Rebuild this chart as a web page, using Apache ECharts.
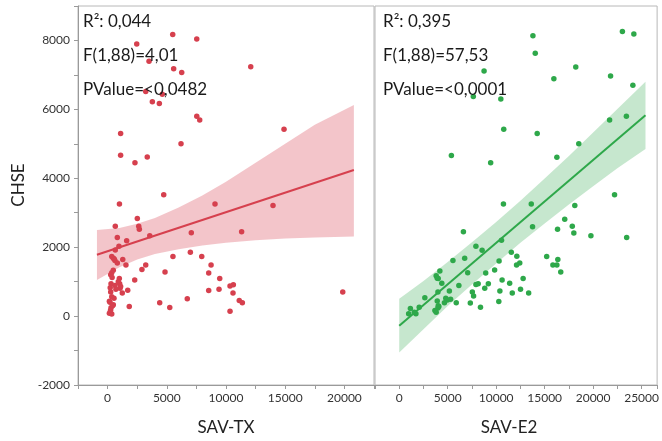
<!DOCTYPE html>
<html>
<head>
<meta charset="utf-8">
<script src="https://cdn.jsdelivr.net/npm/echarts@6/dist/echarts.min.js"></script>
<style>
  html, body { margin: 0; padding: 0; background: #fff; }
  #chart { width: 662px; height: 441px; }
</style>
</head>
<body>
<div id="chart"></div>
<script>
// SAV-TX vs CHSE (left panel)
const txPoints = [
  [5500, 8170], [7530, 8040], [2460, 7900], [3500, 7400], [5580, 7180], [6260, 7070],
  [12090, 7240], [3220, 6520], [4620, 6440], [3780, 6220], [4370, 6170], [7530, 5800],
  [7780, 5690], [1100, 5300], [14900, 5420], [6200, 5000], [1100, 4670], [3350, 4620],
  [2310, 4450], [4740, 3520], [1000, 3250], [9070, 3250], [13970, 3210], [2510, 2830],
  [650, 2610], [2630, 2610], [2680, 2520], [820, 2280], [3560, 2330], [1610, 2190],
  [7070, 2420], [11320, 2450], [960, 2030], [650, 1920], [6990, 1850], [5520, 1730],
  [7950, 1730], [350, 1730], [480, 1680], [1280, 1640], [620, 1610], [820, 1540],
  [1550, 1480], [3220, 1480], [8740, 1480], [2900, 1350], [4850, 1280], [8540, 1250],
  [480, 1330], [350, 1260], [260, 1200], [990, 1090], [2290, 1050], [9470, 1090],
  [290, 940], [1020, 940], [10620, 910], [10340, 870], [620, 890], [1050, 810],
  [1700, 750], [8540, 740], [9410, 780], [10590, 670], [19860, 700], [1240, 670],
  [260, 700], [350, 560], [540, 520], [6730, 500], [11120, 450], [11380, 390],
  [4400, 390], [200, 400], [480, 330], [1830, 280], [5250, 250], [290, 240],
  [10340, 140], [150, 80], [350, 60], [560, 1660], [220, 820], [380, 1120],
  [150, 430], [420, 300], [250, 170], [900, 1000], [700, 780], [1100, 860]
];
const txFit = [[-900, 1780], [20800, 4240]];
const txBandX = [-900, 1000, 2500, 4000, 6000, 8000, 10000, 12500, 15000, 17500, 20800];
const txBandLow = [1050, 1420, 1640, 1800, 1940, 2050, 2130, 2200, 2250, 2280, 2310];
const txBandHigh = [2500, 2560, 2680, 2850, 3150, 3500, 3900, 4450, 5000, 5550, 6130];

// SAV-E2 vs CHSE (right panel)
const e2Points = [
  [13790, 8140], [23020, 8260], [24200, 8190], [14030, 7630], [8750, 7110], [18210, 7230],
  [15950, 6890], [21800, 6970], [24100, 6700], [7640, 6370], [10480, 6300], [10780, 5420],
  [14230, 5300], [21700, 5690], [23430, 5800], [18520, 5000], [5380, 4660], [9430, 4450],
  [16260, 4610], [22210, 3520], [10750, 3250], [13620, 3250], [18110, 3210], [17070, 2810],
  [6620, 2450], [13750, 2590], [16330, 2520], [17850, 2610], [18010, 2410], [19770, 2330],
  [23460, 2280], [10550, 2200], [7910, 2030], [8550, 1910], [11560, 1850], [12130, 1740],
  [15210, 1730], [6750, 1680], [5540, 1610], [10300, 1600], [16360, 1640], [12430, 1540],
  [12100, 1480], [15850, 1480], [16260, 1480], [4190, 1310], [7060, 1260], [8920, 1250],
  [9840, 1340], [16660, 1280], [3810, 1170], [3920, 1100], [4390, 950], [12780, 1090],
  [10610, 1050], [6150, 890], [9190, 940], [11390, 950], [7910, 920], [8140, 940],
  [8820, 810], [2640, 530], [3990, 700], [5170, 730], [7540, 700], [7670, 580],
  [10380, 730], [12510, 780], [11660, 670], [13350, 670], [4800, 520], [4970, 470],
  [5300, 490], [4660, 390], [5880, 390], [7330, 380], [8380, 260], [10270, 420],
  [4090, 280], [3990, 235], [3680, 160], [1150, 220], [970, 70], [1720, 70],
  [2060, 260], [3810, 110], [4020, 300], [3920, 440], [1550, 110], [4020, 1090]
];
const e2Fit = [[0, -280], [25400, 5830]];
const e2BandX = [0, 2500, 5000, 7500, 10000, 12500, 15000, 17500, 20000, 22500, 25400];
const e2BandLow = [-1060, -380, 290, 920, 1530, 2130, 2690, 3240, 3770, 4290, 4850];
const e2BandHigh = [500, 1020, 1570, 2140, 2730, 3350, 3990, 4650, 5330, 6010, 6800];

const yTickLabels = [-2000, 0, 2000, 4000, 6000, 8000];
const txTickLabels = [0, 5000, 10000, 15000, 20000];
const e2TickLabels = [0, 5000, 10000, 15000, 20000, 25000];

const txStats = ['R²: 0,044', 'F(1,88)=4,01', 'PValue=<0,0482'];
const e2Stats = ['R²: 0,395', 'F(1,88)=57,53', 'PValue=<0,0001'];

const RED = '#d6404e';
const GREEN = '#2ea84a';
const FONT = 'Lato';

let myChart = echarts.init(document.getElementById('chart'));

function bandSeries(xs, lo, hi, fill, idx) {
  return {
    type: 'custom',
    xAxisIndex: idx,
    yAxisIndex: idx,
    silent: true,
    z: 1,
    data: [[xs[0], lo[0]]],
    renderItem: (params, api) => {
      const pts = xs.map((x, i) => api.coord([x, hi[i]]));
      for (let i = xs.length - 1; i >= 0; i--) pts.push(api.coord([xs[i], lo[i]]));
      return { type: 'polygon', shape: { points: pts }, style: { fill: fill } };
    }
  };
}

function xAxisOf(idx, min, max, labels, name, namePad) {
  return {
    type: 'value',
    gridIndex: idx,
    min: min,
    max: max,
    interval: 2500,
    name: name,
    nameLocation: 'middle',
    nameGap: 34,
    nameTextStyle: { fontFamily: FONT, fontSize: 17, color: '#222', padding: namePad },
    axisLine: { show: true, onZero: false, lineStyle: { color: '#9a9a9a' } },
    axisTick: { show: true, length: 4, lineStyle: { color: '#9a9a9a' } },
    axisLabel: {
      fontFamily: FONT, fontSize: 12, color: '#333', margin: 7,
      formatter: v => (labels.includes(v) ? String(v) : '')
    },
    splitLine: { show: false }
  };
}

function yAxisOf(idx, visible) {
  return {
    type: 'value',
    gridIndex: idx,
    min: -2000,
    max: 9000,
    interval: 1000,
    show: visible,
    axisLine: { show: true, onZero: false, lineStyle: { color: '#9a9a9a' } },
    axisTick: { show: true, length: 4, lineStyle: { color: '#9a9a9a' } },
    axisLabel: {
      fontFamily: FONT, fontSize: 12, color: '#333', margin: 8,
      formatter: v => (yTickLabels.includes(v) ? String(v) : '')
    },
    splitLine: { show: false }
  };
}

function statText(lines, x) {
  return lines.map((t, i) => ({
    type: 'text',
    x: x,
    y: 22 + i * 34,
    z: 10,
    style: {
      text: t, fill: '#1a1a1a', font: '17px ' + FONT,
      textAlign: 'left', textVerticalAlign: 'middle'
    }
  }));
}

let option = {
  animation: false,
  backgroundColor: '#fff',
  grid: [
    { left: 78, right: 288, top: 6, bottom: 43, show: true, borderColor: '#b8b8b8', borderWidth: 1 },
    { left: 375, right: -1, top: 6, bottom: 43, show: true, borderColor: '#b8b8b8', borderWidth: 1 }
  ],
  xAxis: [
    xAxisOf(0, -2500, 22500, txTickLabels, 'SAV-TX', [0, 0, 0, 0]),
    xAxisOf(1, -2500, 26600, e2TickLabels, 'SAV-E2', [0, 14, 0, 0])
  ],
  yAxis: [yAxisOf(0, true), yAxisOf(1, false)],
  graphic: [
    {
      type: 'text',
      x: 19,
      y: 185,
      rotation: Math.PI / 2,
      style: {
        text: 'CHSE', fill: '#222', font: '17px ' + FONT,
        textAlign: 'center', textVerticalAlign: 'middle'
      }
    }
  ].concat(statText(txStats, 83), statText(e2Stats, 383)),
  series: [
    bandSeries(txBandX, txBandLow, txBandHigh, 'rgba(214,64,78,0.3)', 0),
    {
      type: 'line', xAxisIndex: 0, yAxisIndex: 0, data: txFit, showSymbol: false,
      lineStyle: { color: RED, width: 2 }, z: 3, silent: true
    },
    {
      type: 'scatter', xAxisIndex: 0, yAxisIndex: 0, data: txPoints,
      symbolSize: 5.5, itemStyle: { color: RED, opacity: 1 }, z: 4
    },
    bandSeries(e2BandX, e2BandLow, e2BandHigh, 'rgba(46,168,74,0.27)', 1),
    {
      type: 'line', xAxisIndex: 1, yAxisIndex: 1, data: e2Fit, showSymbol: false,
      lineStyle: { color: GREEN, width: 2 }, z: 3, silent: true
    },
    {
      type: 'scatter', xAxisIndex: 1, yAxisIndex: 1, data: e2Points,
      symbolSize: 5.5, itemStyle: { color: GREEN, opacity: 1 }, z: 4
    }
  ]
};

myChart.setOption(option);
window.addEventListener('resize', () => myChart.resize(), false);
</script>
</body>
</html>
